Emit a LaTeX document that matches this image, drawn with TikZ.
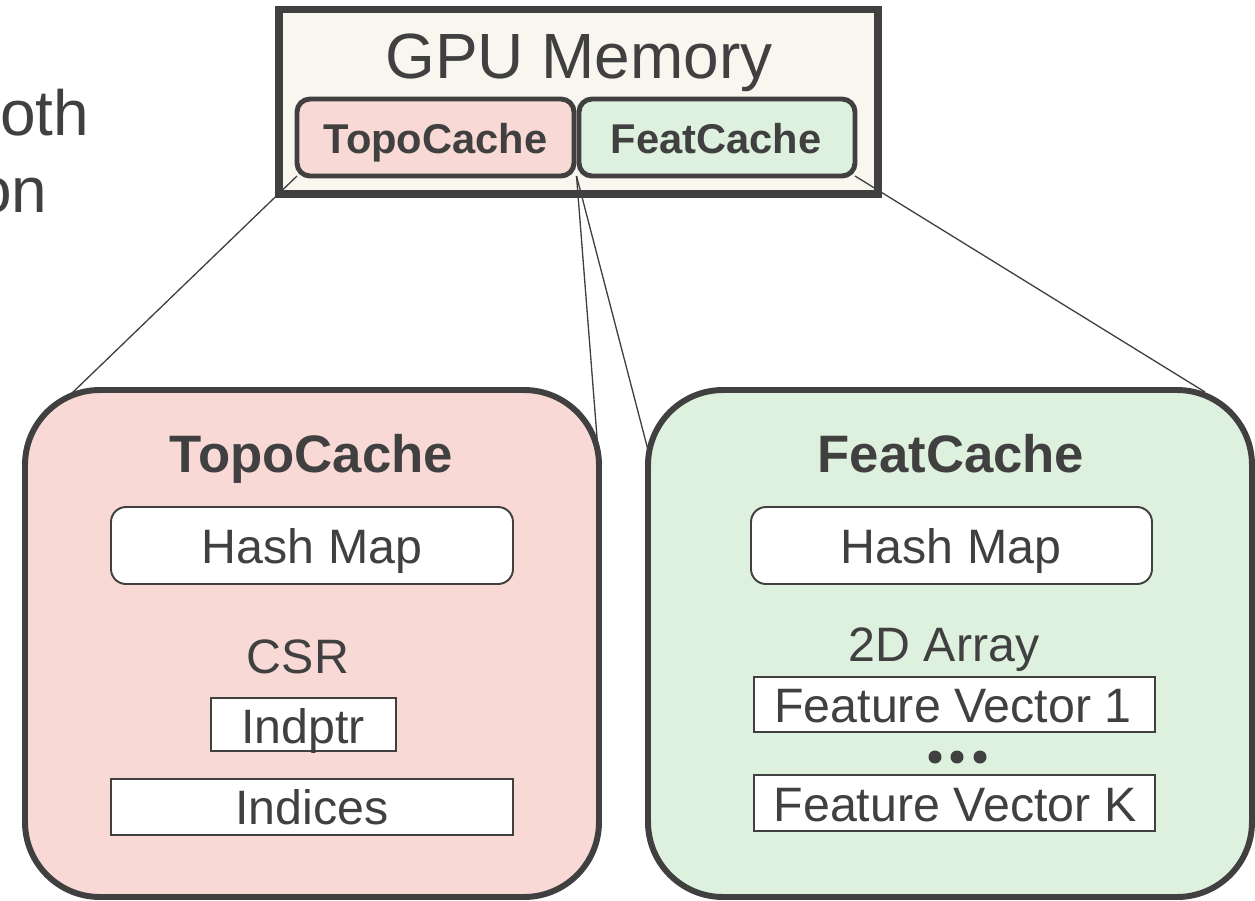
\documentclass[tikz,border=0pt]{standalone}
\usepackage{fontspec}
\setmainfont{Liberation Sans}
\usetikzlibrary{fit,calc}
\definecolor{ink}{HTML}{404040}
\definecolor{cream}{HTML}{F8F6EF}
\definecolor{topofill}{HTML}{F9D9D5}
\definecolor{featfill}{HTML}{DEF0DE}

\tikzset{
  txt/.style={text=ink, inner sep=0, outer sep=0, anchor=base,
    font=\fontsize{27.5pt}{30pt}\selectfont},
  bigtxt/.style={txt, font=\fontsize{36.4pt}{40pt}\selectfont},
  headtxt/.style={txt, font=\fontsize{30pt}{33pt}\selectfont\bfseries},
  tagtxt/.style={txt, font=\fontsize{23.7pt}{26pt}\selectfont\bfseries},
  memframe/.style={draw=ink, line width=4pt, fill=cream, inner sep=0, outer sep=0},
  tagbox/.style={draw=ink, line width=2.8pt, rounded corners=0.26cm, inner sep=0, outer sep=0},
  cachebox/.style={draw=ink, line width=3.4pt, rounded corners=1.5cm, inner sep=0, outer sep=0},
  mapbox/.style={draw=ink, line width=1.1pt, fill=white, rounded corners=0.3cm, inner sep=0, outer sep=0},
  arrbox/.style={draw=ink, line width=1.1pt, fill=white, inner sep=0, outer sep=0},
  dotmark/.style={circle, fill=ink, inner sep=0, minimum size=0.26cm},
  zoomline/.style={draw=ink, line width=0.75pt},
}

\begin{document}
\begin{tikzpicture}[x=0.02cm, y=-0.02cm]
\useasboundingbox (0,0) rectangle (1255,900);
\clip (0,0) rectangle (1255,900);

% text running in from the left margin
\node[bigtxt, anchor=base west] (lineA) at (0,135) {oth};
\node[bigtxt, anchor=base west] (lineB) at (-24,212) {on};

% GPU memory with its two caches
\node[memframe, fit={(279,9.5) (878,194)}] (gpu) {};
\node[bigtxt] (gpulabel) at (579,78) {GPU Memory};
\node[tagbox, fill=topofill, fit={(297,99) (574,176)}] (topoS) {};
\node[tagbox, fill=featfill, fit={(579,99) (855,176)}] (featS) {};
\node[tagtxt] (topoSlabel) at (435.5,153) {TopoCache};
\node[tagtxt] (featSlabel) at (716,153) {FeatCache};

% TopoCache detail
\node[cachebox, fill=topofill, fit={(25,390) (599,897)}] (topoB) {};
\node[headtxt] (topoTitle) at (311.5,472) {TopoCache};
\node[mapbox, fit={(111,507) (513,584)}] (topoMap) {};
\node[txt] (topoMapLabel) at (312,563) {Hash Map};
\node[txt] (csrLabel) at (298,673) {CSR};
\node[arrbox, fit={(211,698) (396,751)}] (indptr) {};
\node[txt] (indptrLabel) at (303,743) {Indptr};
\node[arrbox, fit={(111,779) (513,835)}] (indices) {};
\node[txt] (indicesLabel) at (312,824) {Indices};

% FeatCache detail
\node[cachebox, fill=featfill, fit={(648,390) (1252,897)}] (featB) {};
\node[headtxt] (featTitle) at (951,472) {FeatCache};
\node[mapbox, fit={(751,507) (1152,584)}] (featMap) {};
\node[txt] (featMapLabel) at (951,563) {Hash Map};
\node[txt] (arrLabel) at (944,661) {2D Array};
\node[arrbox, fit={(754,677) (1155,732)}] (fv1) {};
\node[txt] (fv1Label) at (953,722) {Feature Vector 1};
\node[dotmark] (d1) at (935,757) {};
\node[dotmark] (d2) at (957,757) {};
\node[dotmark] (d3) at (980,757) {};
\node[arrbox, fit={(754,775) (1155,831)}] (fvk) {};
\node[txt] (fvkLabel) at (955,821) {Feature Vector K};

% zoom-out lines from the caches to their details
\coordinate (mid) at ($(topoS.south east)!0.5!(featS.south west)$);
\coordinate (topoTL) at (70,395);
\coordinate (topoR) at (598,450);
\coordinate (featL) at (648,450);
\coordinate (featTR) at (1205,392);
\draw[zoomline] (topoS.south west) -- (topoTL);
\draw[zoomline] (mid) -- (topoR);
\draw[zoomline] (mid) -- (featL);
\draw[zoomline] (featS.south east) -- (featTR);
\end{tikzpicture}
\end{document}
